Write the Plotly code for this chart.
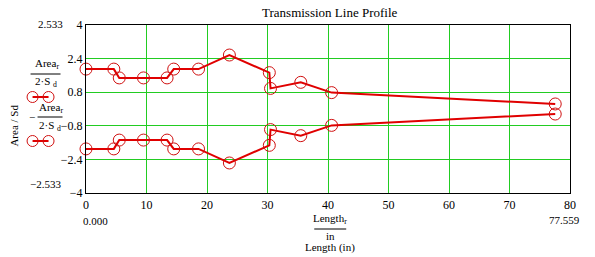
import plotly.graph_objects as go

length_in = [0.0, 4.6, 5.5, 9.5, 13.4, 14.5, 18.6, 23.7, 30.3, 30.5, 35.5, 40.6, 77.559]
area_ratio = [1.9, 1.9, 1.48, 1.48, 1.48, 1.9, 1.9, 2.57, 1.73, 0.98, 1.27, 0.78, 0.24]
neg_area_ratio = [-v for v in area_ratio]
x_ticks = [0, 10, 20, 30, 40, 50, 60, 70, 80]
y_ticks = [-4, -2.4, -0.8, 0.8, 2.4, 4]

W, H = 595, 257
L, R, T, B = 85.5, 570, 25, 193

def px(x):
    return (x - L) / (R - L)

def py(y):
    return (B - y) / (B - T)

RED = "#e00000"
SERIF = "Liberation Serif"

fig = go.Figure()
for ys in (area_ratio, neg_area_ratio):
    fig.add_trace(go.Scatter(
        x=length_in, y=ys, mode="lines+markers",
        line=dict(color=RED, width=2),
        marker=dict(symbol="circle-open", size=12, color="#d01010", line=dict(width=1)),
        showlegend=False, cliponaxis=False))

ann = []
def text(x, y, s, size=12, **kw):
    ann.append(dict(x=px(x), y=py(y), xref="paper", yref="paper", text=s, showarrow=False,
                    xanchor="center", yanchor="middle",
                    font=dict(family=SERIF, size=size, color="black"), **kw))

shapes = []
def hline(x0, x1, y, color="black", width=1):
    shapes.append(dict(type="line", xref="paper", yref="paper", x0=px(x0), x1=px(x1),
                       y0=py(y), y1=py(y), line=dict(color=color, width=width)))

def circ(cx, cy, r=5.5):
    shapes.append(dict(type="circle", xref="paper", yref="paper", x0=px(cx - r), x1=px(cx + r),
                       y0=py(cy - r), y1=py(cy + r), line=dict(color="#d01010", width=1)))

text(330, 12, "Transmission Line Profile", size=13)
text(50, 24, "2.533", size=11)
text(45, 184, "−2.533", size=11)
text(95, 221, "0.000", size=11)
text(564, 220, "77.559", size=11)
text(13, 126, "Area / Sd", size=11, textangle=-90)

# legend block
text(46, 64, "Area<sub>r</sub>", size=11)
hline(30, 60, 74)
text(45, 82, "2·S <sub>d</sub>", size=11)
hline(32, 48, 97, RED, 2)
circ(32, 97); circ(48, 97)
text(31, 117, "−", size=11)
text(50, 108, "Area<sub>r</sub>", size=11)
hline(37, 62, 117)
text(49, 126, "2·S <sub>d</sub>", size=11)
hline(32, 48, 141, RED, 2)
circ(32, 141); circ(48, 141)

# x label
text(330, 219, "Length<sub>r</sub>", size=11)
hline(314, 346, 229)
text(330, 236, "in", size=11)
text(330, 247, "Length (in)", size=11)

axis_common = dict(showgrid=True, gridcolor="#22cc22", gridwidth=1, zeroline=False,
                   showline=True, linecolor="black", linewidth=1, mirror=True,
                   ticks="", tickfont=dict(family=SERIF, size=12, color="black"))

fig.update_layout(
    width=W, height=H, margin=dict(l=L, r=W - R, t=T, b=H - B),
    paper_bgcolor="white", plot_bgcolor="white",
    xaxis=dict(range=[0, 80], tickvals=x_ticks, ticktext=[str(v) for v in x_ticks],
               ticklabelstandoff=1, **axis_common),
    yaxis=dict(range=[-4, 4], tickvals=y_ticks, ticktext=["−4", "−2.4", "−0.8", "0.8", "2.4", "4"],
               **axis_common),
    annotations=ann, shapes=shapes, showlegend=False)

fig.write_html("out.html")
